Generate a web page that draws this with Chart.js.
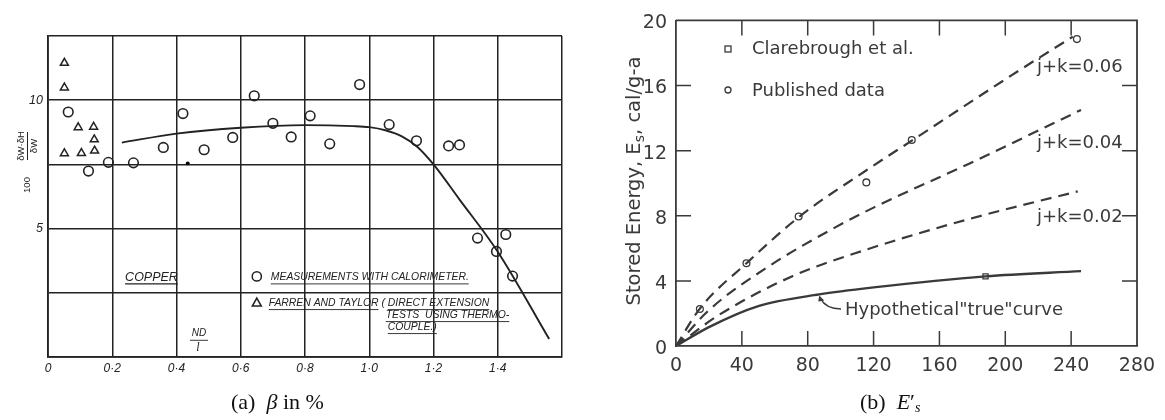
<!DOCTYPE html>
<html>
<head>
<meta charset="utf-8">
<script src="https://cdn.jsdelivr.net/npm/chart.js@4.4.1/dist/chart.umd.min.js"></script>
<style>
  body { margin: 0; background: #fff; }
  #wrap { position: relative; width: 1165px; height: 420px; overflow: hidden; background: #fff; }
  #ca { position: absolute; left: 0; top: 0; }
  #cb { position: absolute; left: 600px; top: 0; }
  .cap { position: absolute; top: 389px; font-family: "Liberation Serif", "DejaVu Serif", serif;
         font-size: 22px; line-height: 26px; color: #111; white-space: nowrap; }
  .cap sub { font-size: 14px; vertical-align: -3px; line-height: 0; }
</style>
</head>
<body>
<div id="wrap">
  <canvas id="ca" width="600" height="420"></canvas>
  <canvas id="cb" width="565" height="420"></canvas>
  <div class="cap" style="left:231px">(a)&nbsp; <i>β</i> in %</div>
  <div class="cap" style="left:860px">(b)&nbsp; <i>E</i>′<sub><i>s</i></sub></div>
</div>
<script>
// ---------- Panel (a): copper, 100·δW·δH/δW against ND/l ----------
const xTicksA = [0, 0.2, 0.4, 0.6, 0.8, 1.0, 1.2, 1.4, 1.6];
const yLabelledA = [5, 10];
const calorimeterPts = [
  [0.063, 9.54], [0.126, 7.24], [0.188, 7.58], [0.266, 7.56], [0.359, 8.16],
  [0.420, 9.48], [0.486, 8.07], [0.575, 8.55], [0.642, 10.17], [0.700, 9.10],
  [0.757, 8.57], [0.816, 9.39], [0.877, 8.30], [0.970, 10.61], [1.062, 9.05],
  [1.147, 8.42], [1.247, 8.22], [1.281, 8.26], [1.337, 4.63], [1.425, 4.77],
  [1.396, 4.11], [1.446, 3.15]
];
const farrenTaylorPts = [
  [0.051, 11.45], [0.051, 10.49], [0.094, 8.94], [0.142, 8.96], [0.144, 8.47],
  [0.051, 7.93], [0.104, 7.94], [0.145, 8.03]
];
const singleDot = [[0.435, 7.54]];
const fitCurveA = [
  [0.23, 8.35], [0.40, 8.70], [0.60, 8.93], [0.80, 9.03], [0.95, 8.99], [1.00, 8.95],
  [1.05, 8.83], [1.10, 8.60], [1.15, 8.18], [1.20, 7.50], [1.28, 6.15], [1.40, 4.10], [1.56, 0.70]
];

// ---------- Panel (b): stored energy against strain ----------
const xTicksB = [0, 40, 80, 120, 160, 200, 240, 280];
const yTicksB = [0, 4, 8, 12, 16, 20];
const curveJK06 = [[0, 0], [14.5, 2.3], [43, 5.1], [75, 7.95], [115, 10.75], [143, 12.6], [208, 16.9], [241, 19.0]];
const curveJK04 = [[0, 0], [20, 2.2], [58, 5.0], [97, 7.3], [120, 8.5], [178, 11.2], [246, 14.5]];
const curveJK02 = [[0, 0], [26, 1.9], [71, 4.3], [115, 5.9], [178, 7.8], [244, 9.5]];
const trueCurve = [[0, 0], [20, 1.16], [50, 2.45], [87, 3.17], [120, 3.6], [188, 4.28], [246, 4.6]];
const publishedPts = [[14.5, 2.27], [42.8, 5.08], [74.5, 7.95], [115.6, 10.05], [143.2, 12.65], [243.5, 18.85]];
const clarebroughPts = [[188, 4.28]];

const toXY = arr => arr.map(([x, y]) => ({ x, y }));
const inkA = '#222';
const inkB = '#3a3a3a';

// Text helper: draws a string and optionally underlines it
function textU(ctx, str, x, y, underline) {
  ctx.fillText(str, x, y);
  const w = ctx.measureText(str).width;
  if (underline) {
    ctx.beginPath();
    ctx.moveTo(x, y + 6.5);
    ctx.lineTo(x + w, y + 6.5);
    ctx.stroke();
  }
  return w;
}

const annotA = {
  id: 'annotA',
  afterDraw(chart) {
    const { ctx, scales: { x, y } } = chart;
    ctx.save();
    ctx.fillStyle = inkA;
    ctx.strokeStyle = inkA;
    ctx.lineWidth = 1;
    ctx.textBaseline = 'middle';

    // rotated axis title: 100 · (δW·δH / δW)
    ctx.save();
    ctx.translate(27, 160);
    ctx.rotate(-Math.PI / 2);
    ctx.font = '9.5px "Liberation Sans", sans-serif';
    ctx.textAlign = 'center';
    ctx.fillText('100', -25, 0);
    ctx.fillText('δW·δH', 14, -6);
    ctx.fillText('δW', 14, 7);
    ctx.beginPath();
    ctx.moveTo(0, 0.5); ctx.lineTo(28, 0.5);
    ctx.stroke();
    ctx.restore();

    ctx.textAlign = 'left';
    // material label
    ctx.font = 'italic 12.5px "Liberation Sans", sans-serif';
    ctx.lineWidth = 1.1;
    textU(ctx, 'COPPER', x.getPixelForValue(0.24), y.getPixelForValue(3.1), true);

    // key
    ctx.font = 'italic 10.4px "Liberation Sans", sans-serif';
    const kx = x.getPixelForValue(0.65);
    const ky1 = y.getPixelForValue(3.1), ky2 = y.getPixelForValue(2.1);
    ctx.lineWidth = 1.5;
    ctx.beginPath(); ctx.arc(kx, ky1 - 1, 4.6, 0, Math.PI * 2); ctx.stroke();
    ctx.beginPath();
    ctx.moveTo(kx, ky2 - 5); ctx.lineTo(kx + 4.5, ky2 + 3); ctx.lineTo(kx - 4.5, ky2 + 3); ctx.closePath();
    ctx.stroke();
    ctx.lineWidth = 0.9;
    textU(ctx, 'MEASUREMENTS WITH CALORIMETER.', kx + 14, ky1, true);
    let cx = kx + 12;
    cx += textU(ctx, 'FARREN AND TAYLOR', cx, ky2, true);
    cx += textU(ctx, ' ( ', cx, ky2, false);
    textU(ctx, 'DIRECT EXTENSION', cx, ky2, true);
    textU(ctx, 'TESTS  USING THERMO-', cx - 2, ky2 + 12, true);
    textU(ctx, 'COUPLE.)', cx, ky2 + 24, true);

    // abscissa name ND / l
    ctx.textAlign = 'center';
    ctx.font = 'italic 10px "Liberation Sans", sans-serif';
    const nx = x.getPixelForValue(0.47), ny = y.getPixelForValue(0.65);
    ctx.fillText('ND', nx, ny - 7);
    ctx.beginPath(); ctx.moveTo(nx - 9, ny); ctx.lineTo(nx + 9, ny); ctx.stroke();
    ctx.font = 'italic 12px "Liberation Serif", serif';
    ctx.fillText('l', nx - 1, ny + 8);
    ctx.restore();
  }
};

new Chart(document.getElementById('ca'), {
  type: 'scatter',
  data: {
    datasets: [
      { data: toXY(fitCurveA), showLine: true, pointRadius: 0, borderColor: inkA, borderWidth: 1.9,
        cubicInterpolationMode: 'monotone', fill: false },
      { data: toXY(calorimeterPts), pointStyle: 'circle', pointRadius: 4.8, borderWidth: 1.6,
        borderColor: inkA, backgroundColor: 'rgba(0,0,0,0)' },
      { data: toXY(farrenTaylorPts), pointStyle: 'triangle', pointRadius: 4.6, borderWidth: 1.5,
        borderColor: inkA, backgroundColor: 'rgba(0,0,0,0)' },
      { data: toXY(singleDot), pointStyle: 'circle', pointRadius: 1.9, borderWidth: 0,
        backgroundColor: '#000' }
    ]
  },
  options: {
    responsive: false, animation: false,
    layout: { padding: { left: 0, top: 36, right: 38, bottom: 38 } },
    plugins: { legend: { display: false }, tooltip: { enabled: false } },
    scales: {
      x: {
        type: 'linear', min: 0, max: 1.6,
        afterBuildTicks: s => { s.ticks = xTicksA.map(v => ({ value: v })); },
        ticks: {
          padding: 4, maxRotation: 0, autoSkip: false, color: inkA,
          font: { family: 'Liberation Sans', style: 'italic', size: 12 },
          callback: v => v === 0 ? '0' : (v > 1.5 ? '' : v.toFixed(1).replace('.', '·'))
        },
        grid: { color: inkA, lineWidth: 1.5, drawTicks: false },
        border: { color: inkA, width: 1.8 },
        afterFit: s => { s.height = 25; }
      },
      y: {
        type: 'linear', min: 0, max: 12.5,
        ticks: {
          stepSize: 2.5, padding: 5, color: inkA,
          font: { family: 'Liberation Sans', style: 'italic', size: 12.5 },
          callback: v => yLabelledA.includes(v) ? String(v) : ''
        },
        grid: { color: inkA, lineWidth: 1.5, drawTicks: false },
        border: { color: inkA, width: 1.8 },
        afterFit: s => { s.width = 48; }
      }
    }
  },
  plugins: [annotA]
});

// ---------- Panel (b) drawing ----------
const annotB = {
  id: 'annotB',
  afterDatasetsDraw(chart) {
    const { ctx, chartArea: a, scales: { x, y } } = chart;
    ctx.save();
    ctx.strokeStyle = inkB;
    ctx.lineWidth = 1.8;
    // top and right frame
    ctx.beginPath();
    ctx.moveTo(a.left, a.top); ctx.lineTo(a.right, a.top); ctx.lineTo(a.right, a.bottom);
    ctx.stroke();
    // inward tick marks on all four sides
    ctx.lineWidth = 1.5;
    ctx.beginPath();
    xTicksB.slice(1, -1).forEach(v => {
      const px = x.getPixelForValue(v);
      ctx.moveTo(px, a.bottom); ctx.lineTo(px, a.bottom - 15);
      ctx.moveTo(px, a.top); ctx.lineTo(px, a.top + 15);
    });
    yTicksB.slice(1, -1).forEach(v => {
      const py = y.getPixelForValue(v);
      ctx.moveTo(a.left, py); ctx.lineTo(a.left + 15, py);
      ctx.moveTo(a.right, py); ctx.lineTo(a.right - 15, py);
    });
    ctx.stroke();

    ctx.fillStyle = inkB;
    ctx.textBaseline = 'middle';
    ctx.textAlign = 'left';
    ctx.font = '18px "DejaVu Sans", sans-serif';

    // key
    const lx = 128;
    ctx.lineWidth = 1.3;
    ctx.strokeRect(lx - 3, 46, 6, 6);
    ctx.beginPath(); ctx.arc(lx, 90, 3, 0, Math.PI * 2); ctx.stroke();
    ctx.fillText('Clarebrough et al.', 152, 49);
    ctx.fillText('Published data', 152, 91);

    // curve labels
    ctx.fillText('j+k=0.06', 437, 67);
    ctx.fillText('j+k=0.04', 437, 143);
    ctx.fillText('j+k=0.02', 437, 217);
    ctx.fillText('Hypothetical"true"curve', 245, 310);

    // pointer from the label to the solid curve
    const tx = x.getPixelForValue(87), ty = y.getPixelForValue(3.17);
    ctx.lineWidth = 1.3;
    ctx.beginPath();
    ctx.moveTo(241, 309);
    ctx.quadraticCurveTo(226, 309, tx + 1, ty + 4);
    ctx.stroke();
    ctx.beginPath();
    ctx.moveTo(tx, ty + 1); ctx.lineTo(tx + 5, ty + 6); ctx.lineTo(tx - 1, ty + 7); ctx.closePath();
    ctx.fill();

    // rotated axis title with subscript
    ctx.save();
    ctx.translate(35, 181);
    ctx.rotate(-Math.PI / 2);
    const big = '19.5px "DejaVu Sans", sans-serif', small = '14px "DejaVu Sans", sans-serif';
    const p1 = 'Stored Energy, E', p3 = ', cal/g-a';
    ctx.font = small;
    const w2 = ctx.measureText('s').width;
    ctx.font = big;
    const w1 = ctx.measureText(p1).width, w3 = ctx.measureText(p3).width;
    let sx = -(w1 + w2 + w3) / 2;
    ctx.fillText(p1, sx, 0); sx += w1;
    ctx.font = small;
    ctx.fillText('s', sx, 5); sx += w2;
    ctx.font = big;
    ctx.fillText(p3, sx, 0);
    ctx.restore();
    ctx.restore();
  }
};

const dashed = { showLine: true, pointRadius: 0, borderColor: inkB, borderWidth: 2.2,
  borderDash: [11, 7], cubicInterpolationMode: 'monotone', fill: false };

new Chart(document.getElementById('cb'), {
  type: 'scatter',
  data: {
    datasets: [
      { ...dashed, data: toXY(curveJK06) },
      { ...dashed, data: toXY(curveJK04) },
      { ...dashed, data: toXY(curveJK02) },
      { data: toXY(trueCurve), showLine: true, pointRadius: 0, borderColor: inkB, borderWidth: 2.4,
        cubicInterpolationMode: 'monotone', fill: false },
      { data: toXY(publishedPts), pointStyle: 'circle', pointRadius: 3.4, borderWidth: 1.3,
        borderColor: inkB, backgroundColor: '#fff' },
      { data: toXY(clarebroughPts), pointStyle: 'rect', pointRadius: 3.6, borderWidth: 1.3,
        borderColor: inkB, backgroundColor: '#fff' }
    ]
  },
  options: {
    responsive: false, animation: false,
    layout: { padding: { left: 0, top: 14, right: 28, bottom: 44 } },
    plugins: { legend: { display: false }, tooltip: { enabled: false } },
    scales: {
      x: {
        type: 'linear', min: 0, max: 280,
        afterBuildTicks: s => { s.ticks = xTicksB.map(v => ({ value: v })); },
        ticks: { padding: 9, maxRotation: 0, autoSkip: false, color: inkB,
                 font: { family: 'DejaVu Sans', size: 19 } },
        grid: { display: false, drawTicks: false },
        border: { color: inkB, width: 1.8 },
        afterFit: s => { s.height = 30; }
      },
      y: {
        type: 'linear', min: 0, max: 20,
        afterBuildTicks: s => { s.ticks = yTicksB.map(v => ({ value: v })); },
        ticks: { padding: 9, labelOffset: 3, color: inkB,
                 font: { family: 'DejaVu Sans', size: 19 } },
        grid: { display: false, drawTicks: false },
        border: { color: inkB, width: 1.8 },
        afterFit: s => { s.width = 76; }
      }
    }
  },
  plugins: [annotB]
});
</script>
</body>
</html>
